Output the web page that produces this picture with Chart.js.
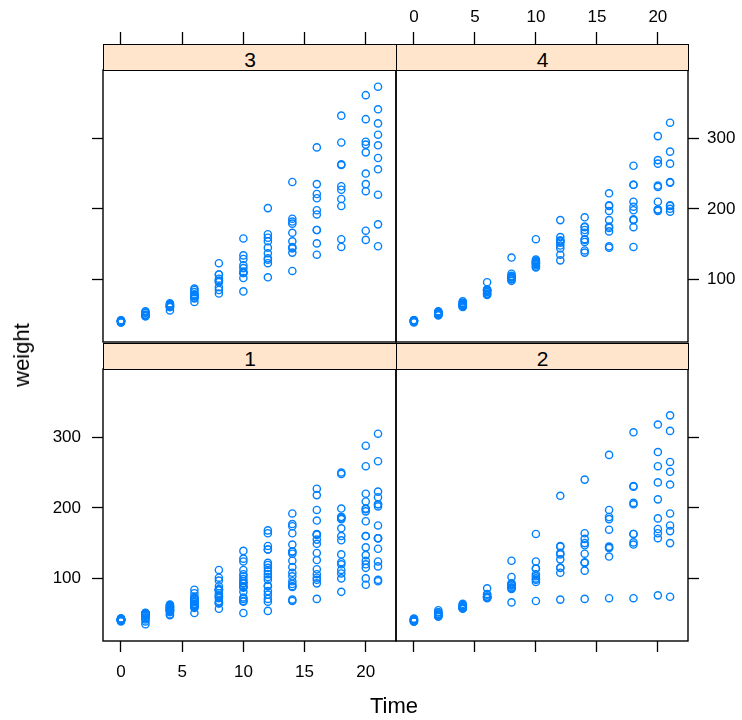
<!DOCTYPE html>
<html>
<head>
<meta charset="utf-8">
<script src="https://cdn.jsdelivr.net/npm/chart.js@4/dist/chart.umd.min.js"></script>
<style>
  body { margin: 0; background: #fff; }
  #wrap { position: relative; width: 742px; height: 720px; overflow: hidden; background: #fff; font-family: "Liberation Sans", Arial, sans-serif; }
  canvas { position: absolute; }
  .strip { position: absolute; box-sizing: border-box; background: #ffe5cc; border: 1.3px solid #000; text-align: center; font-size: 21px; line-height: 29px; color: #000; }
  .lab { position: absolute; font-size: 22px; color: #000; white-space: nowrap; }
</style>
</head>
<body>
<div id="wrap"></div>
<script>
// ChickWeight: weight ~ Time | Diet
var times = [0, 2, 4, 6, 8, 10, 12, 14, 16, 18, 20, 21];

// one row per chick, weights at the times above
var diet1 = [
  [42, 51, 59, 64, 76, 93, 106, 125, 149, 171, 199, 205],
  [40, 49, 58, 72, 84, 103, 122, 138, 162, 187, 209, 215],
  [43, 39, 55, 67, 84, 99, 115, 138, 163, 187, 198, 202],
  [42, 49, 56, 67, 74, 87, 102, 108, 136, 154, 160, 157],
  [41, 42, 48, 60, 79, 106, 141, 164, 197, 199, 220, 223],
  [41, 49, 59, 74, 97, 124, 141, 148, 155, 160, 160, 157],
  [41, 49, 57, 71, 89, 112, 146, 174, 218, 250, 288, 305],
  [42, 50, 61, 71, 84, 93, 110, 116, 126, 134, 125],
  [42, 51, 59, 68, 85, 96, 90, 92, 93, 100, 100, 98],
  [41, 44, 52, 63, 74, 81, 89, 96, 101, 112, 120, 124],
  [43, 51, 63, 84, 112, 139, 168, 177, 182, 184, 181, 175],
  [41, 49, 56, 62, 72, 88, 119, 135, 162, 185, 195, 205],
  [41, 48, 53, 60, 65, 67, 71, 70, 71, 81, 91, 96],
  [41, 49, 62, 79, 101, 128, 164, 192, 227, 248, 259, 266],
  [41, 49, 56, 64, 68, 68, 67, 68],
  [41, 45, 49, 51, 57, 51, 54],
  [42, 51, 61, 72, 83, 89, 98, 103, 113, 123, 133, 142],
  [39, 35],
  [43, 48, 55, 62, 65, 71, 82, 88, 106, 120, 144, 157],
  [41, 47, 54, 58, 65, 73, 77, 89, 98, 107, 115, 117]
];
var diet2 = [
  [40, 50, 62, 86, 125, 163, 217, 240, 275, 307, 318, 331],
  [41, 55, 64, 77, 90, 95, 108, 111, 131, 148, 164, 167],
  [43, 52, 61, 73, 90, 103, 127, 135, 145, 163, 170, 175],
  [42, 52, 58, 74, 66, 68, 70, 71, 72, 72, 76, 74],
  [40, 49, 62, 78, 102, 124, 146, 164, 197, 231, 259, 265],
  [42, 48, 57, 74, 93, 114, 136, 147, 169, 205, 236, 251],
  [39, 46, 58, 73, 87, 100, 115, 123, 144, 163, 185, 192],
  [39, 46, 58, 73, 92, 114, 145, 156, 184, 207, 212, 233],
  [39, 48, 59, 74, 87, 106, 134, 150, 187, 230, 279, 309],
  [42, 48, 59, 72, 85, 98, 115, 122, 143, 151, 157, 150]
];
var diet3 = [
  [42, 53, 62, 73, 85, 102, 123, 138, 170, 204, 235, 256],
  [41, 49, 65, 82, 107, 129, 159, 179, 221, 263, 291, 305],
  [39, 50, 63, 77, 96, 111, 137, 144, 151, 146, 156, 147],
  [41, 49, 63, 85, 107, 134, 164, 186, 235, 294, 327, 341],
  [41, 53, 64, 87, 123, 158, 201, 238, 287, 332, 361, 373],
  [39, 48, 61, 76, 98, 116, 145, 166, 198, 227, 225, 220],
  [41, 48, 56, 68, 80, 83, 103, 112, 135, 157, 169, 178],
  [41, 49, 61, 74, 98, 109, 128, 154, 192, 232, 280, 290],
  [42, 50, 61, 78, 89, 109, 130, 146, 170, 214, 250, 272],
  [41, 55, 66, 79, 101, 120, 154, 182, 215, 262, 295, 321]
];
var diet4 = [
  [42, 51, 66, 85, 103, 124, 155, 153, 175, 184, 199, 204],
  [42, 49, 63, 84, 103, 126, 160, 174, 204, 234, 269, 281],
  [42, 55, 69, 96, 131, 157, 184, 188, 197, 198, 199, 200],
  [42, 51, 65, 86, 103, 118, 127, 138, 145, 146],
  [41, 50, 61, 78, 98, 117, 135, 141, 147, 174, 197, 196],
  [40, 52, 62, 82, 101, 120, 144, 156, 173, 210, 231, 238],
  [41, 53, 66, 79, 100, 123, 148, 157, 168, 185, 210, 205],
  [39, 50, 62, 80, 104, 125, 154, 170, 222, 261, 303, 322],
  [40, 53, 64, 85, 108, 128, 152, 166, 184, 203, 233, 237],
  [41, 54, 67, 84, 105, 122, 155, 175, 205, 234, 264, 264]
];

var xTicks = [0, 5, 10, 15, 20];
var yTicks = [100, 200, 300];
var xRange = [-1.47, 22.47];
var yRange = [11.34, 396.66];

var FONT = '"Liberation Sans", Arial, sans-serif';
var SIDE = 90, TOPH = 70, BOTH = 79, STRIP = 26;

// which sides get tick marks / labels
var panels = [
  { name: '3', chicks: diet3, x: 103, y: 70, w: 293, h: 272, sides: { top: 'ticks', bottom: 'none', left: 'ticks', right: 'none' } },
  { name: '4', chicks: diet4, x: 396, y: 70, w: 292, h: 272, sides: { top: 'labels', bottom: 'none', left: 'none', right: 'labels' } },
  { name: '1', chicks: diet1, x: 103, y: 369, w: 293, h: 272, sides: { top: 'none', bottom: 'labels', left: 'labels', right: 'none' } },
  { name: '2', chicks: diet2, x: 396, y: 369, w: 292, h: 272, sides: { top: 'none', bottom: 'ticks', left: 'none', right: 'ticks' } }
];

function toPoints(chicks) {
  var pts = [];
  chicks.forEach(function (w) {
    w.forEach(function (v, i) {
      pts.push({ x: times[i], y: v });
    });
  });
  return pts;
}

function makeAxis(pos, mode) {
  var isX = (pos === 'top' || pos === 'bottom');
  var range = isX ? xRange : yRange;
  var vals = isX ? xTicks : yTicks;
  var pad = { top: 4, bottom: 10, left: 11, right: 8 };
  return {
    type: 'linear',
    axis: isX ? 'x' : 'y',
    position: pos,
    min: range[0],
    max: range[1],
    afterBuildTicks: function (s) {
      s.ticks = vals.map(function (v) { return { value: v }; });
    },
    afterFit: function (s) {
      if (isX) s.height = (pos === 'top') ? TOPH : BOTH;
      else s.width = SIDE;
    },
    grid: {
      display: mode !== 'none',
      drawOnChartArea: false,
      drawTicks: true,
      tickLength: pos === 'top' ? STRIP + 12 : 11,
      tickColor: '#000',
      tickWidth: 1.3
    },
    border: { display: false },
    ticks: {
      display: true,
      autoSkip: false,
      maxRotation: 0,
      minRotation: 0,
      padding: pad[pos],
      color: mode === 'labels' ? '#000' : 'rgba(0,0,0,0)',
      font: { family: FONT, size: 17 }
    }
  };
}

var frame = {
  id: 'frame',
  afterDraw: function (chart) {
    var a = chart.chartArea, ctx = chart.ctx;
    ctx.save();
    ctx.strokeStyle = '#000';
    ctx.lineWidth = 1.4;
    ctx.strokeRect(a.left, a.top, a.right - a.left, a.bottom - a.top);
    ctx.restore();
  }
};

var wrap = document.getElementById('wrap');

panels.forEach(function (p) {
  var cv = document.createElement('canvas');
  var cw = SIDE + p.w + SIDE, ch = TOPH + p.h + BOTH;
  cv.width = cw;
  cv.height = ch;
  cv.style.width = cw + 'px';
  cv.style.height = ch + 'px';
  cv.style.left = (p.x - SIDE) + 'px';
  cv.style.top = (p.y - TOPH) + 'px';
  wrap.appendChild(cv);

  new Chart(cv, {
    type: 'scatter',
    data: {
      datasets: [{
        label: 'Diet ' + p.name,
        data: toPoints(p.chicks),
        xAxisID: 'x',
        yAxisID: 'y',
        pointStyle: 'circle',
        pointRadius: 3.6,
        pointHoverRadius: 3.6,
        pointBorderWidth: 1.4,
        pointBorderColor: '#0080ff',
        pointBackgroundColor: 'rgba(0,0,0,0)'
      }]
    },
    options: {
      responsive: false,
      animation: false,
      devicePixelRatio: 1,
      layout: { padding: 0 },
      plugins: { legend: { display: false }, tooltip: { enabled: false } },
      events: [],
      scales: {
        x: makeAxis('bottom', p.sides.bottom),
        xTop: makeAxis('top', p.sides.top),
        y: makeAxis('left', p.sides.left),
        yRight: makeAxis('right', p.sides.right)
      }
    },
    plugins: [frame]
  });
});

// strips on top of the canvases
panels.forEach(function (p) {
  var s = document.createElement('div');
  s.className = 'strip';
  s.style.left = p.x + 'px';
  s.style.top = (p.y - STRIP) + 'px';
  s.style.width = (p.w + 1) + 'px';
  s.style.height = (STRIP + 1) + 'px';
  s.textContent = p.name;
  wrap.appendChild(s);
});

var xl = document.createElement('div');
xl.className = 'lab';
xl.textContent = 'Time';
xl.style.left = '394px';
xl.style.top = '706px';
xl.style.transform = 'translate(-50%, -50%)';
wrap.appendChild(xl);

var yl = document.createElement('div');
yl.className = 'lab';
yl.textContent = 'weight';
yl.style.left = '22px';
yl.style.top = '355px';
yl.style.transform = 'translate(-50%, -50%) rotate(-90deg)';
wrap.appendChild(yl);
</script>
</body>
</html>
